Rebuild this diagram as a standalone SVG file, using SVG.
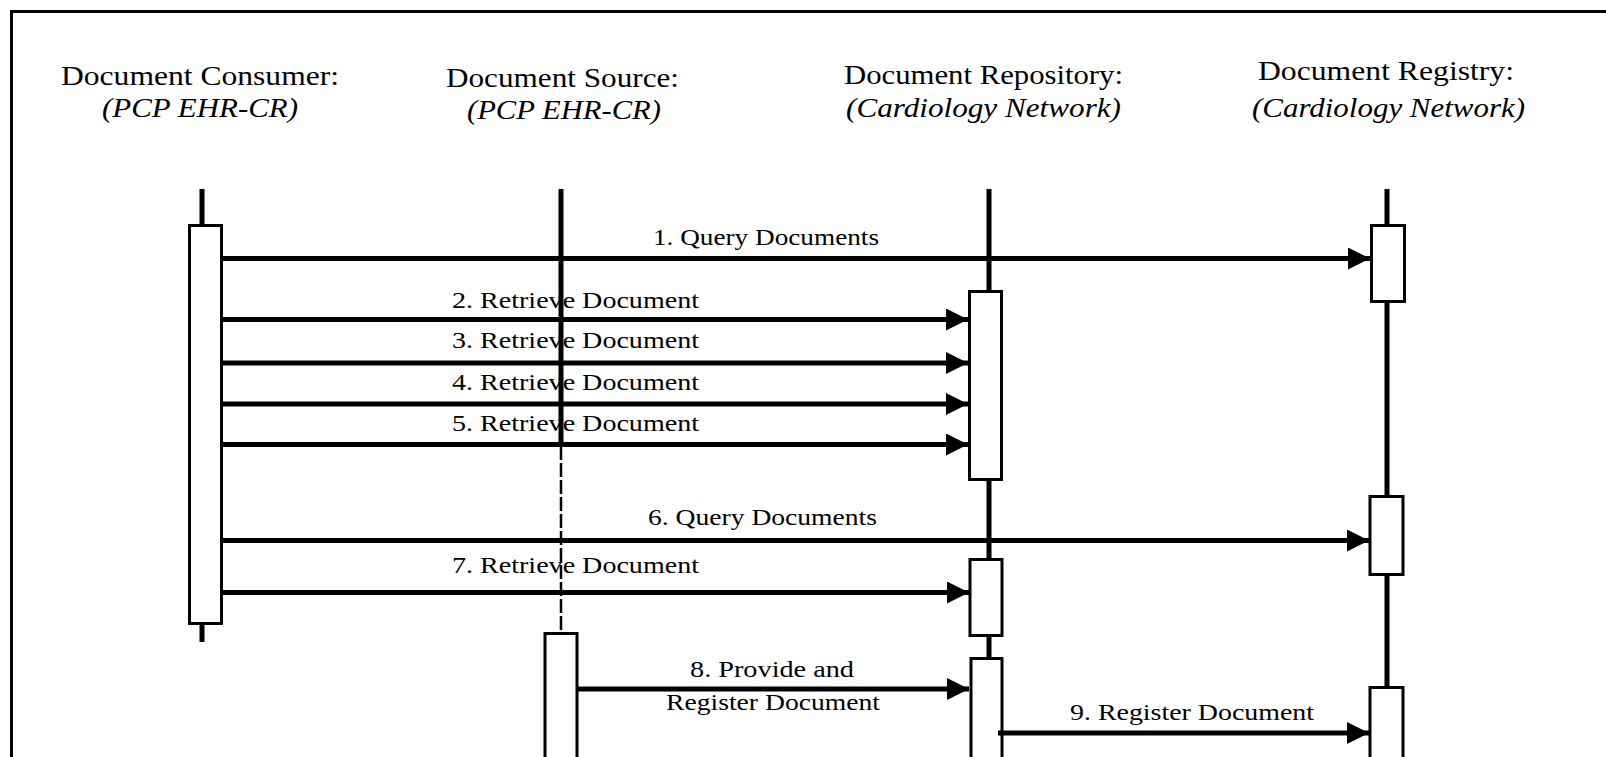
<svg xmlns="http://www.w3.org/2000/svg" width="1606" height="757" viewBox="0 0 1606 757">
<style>
.hdr{font-family:"Liberation Serif","Times New Roman",serif;font-size:27px;fill:#000}
.sub{font-family:"Liberation Serif","Times New Roman",serif;font-size:27px;font-style:italic;fill:#000}
.lbl{font-family:"Liberation Serif","Times New Roman",serif;font-size:24px;fill:#000}
.life{stroke:#000;stroke-width:5;fill:none}
.act{fill:#fff;stroke:#000;stroke-width:3}
.msg{stroke:#000;stroke-width:5;fill:none;marker-end:url(#ah)}
.frame{stroke:#000;stroke-width:3;fill:none}
</style>
<defs>
<marker id="ah" markerUnits="userSpaceOnUse" markerWidth="24" markerHeight="24" refX="22" refY="11" orient="auto" viewBox="0 0 24 24">
<path d="M0,0 L22,11 L0,22 z" fill="#000"/>
</marker>
</defs>
<rect width="1606" height="757" fill="#fff"/>
<path class="frame" d="M11.5,757 L11.5,11.5 L1606,11.5"/>

<g id="consumer">
<text class="hdr" x="61" y="85" textLength="278" lengthAdjust="spacingAndGlyphs">Document Consumer:</text>
<text class="sub" x="102" y="117" textLength="196" lengthAdjust="spacingAndGlyphs">(PCP EHR-CR)</text>
<line class="life" x1="202" y1="189" x2="202" y2="642"/>
<rect class="act" x="189.5" y="225.5" width="32" height="398"/>
</g>

<g id="source">
<text class="hdr" x="446" y="87" textLength="233" lengthAdjust="spacingAndGlyphs">Document Source:</text>
<text class="sub" x="467" y="119" textLength="194" lengthAdjust="spacingAndGlyphs">(PCP EHR-CR)</text>
<line class="life" x1="561" y1="189" x2="561" y2="446"/>
<line x1="561" y1="446" x2="561" y2="632" stroke="#000" stroke-width="2.5" stroke-dasharray="14,3"/>
<rect class="act" x="545" y="633.5" width="32" height="130"/>
</g>

<g id="repository">
<text class="hdr" x="844" y="84" textLength="279" lengthAdjust="spacingAndGlyphs">Document Repository:</text>
<text class="sub" x="846" y="117" textLength="275" lengthAdjust="spacingAndGlyphs">(Cardiology Network)</text>
<line class="life" x1="989" y1="189" x2="989" y2="757"/>
<rect class="act" x="969.5" y="291.5" width="32" height="188"/>
<rect class="act" x="970" y="559.5" width="32" height="76"/>
<rect class="act" x="971" y="658.5" width="31" height="110"/>
</g>

<g id="registry">
<text class="hdr" x="1258" y="80" textLength="256" lengthAdjust="spacingAndGlyphs">Document Registry:</text>
<text class="sub" x="1252" y="117" textLength="273" lengthAdjust="spacingAndGlyphs">(Cardiology Network)</text>
<line class="life" x1="1387" y1="189" x2="1387" y2="757"/>
<rect class="act" x="1371.5" y="225.5" width="33" height="76"/>
<rect class="act" x="1370" y="496.5" width="33" height="78"/>
<rect class="act" x="1370" y="687.5" width="33" height="80"/>
</g>

<g id="connectors">
<line class="msg" x1="223" y1="258.5" x2="1370" y2="258.5"/>
<line class="msg" x1="223" y1="319.5" x2="968" y2="319.5"/>
<line class="msg" x1="223" y1="363" x2="968" y2="363"/>
<line class="msg" x1="223" y1="404" x2="968" y2="404"/>
<line class="msg" x1="223" y1="444.5" x2="968" y2="444.5"/>
<line class="msg" x1="223" y1="540.5" x2="1369" y2="540.5"/>
<line class="msg" x1="223" y1="592.5" x2="969" y2="592.5"/>
<line class="msg" x1="578" y1="689" x2="969" y2="689"/>
<line class="msg" x1="998" y1="733" x2="1369" y2="733"/>
</g>

<g id="labels">
<text class="lbl" x="653" y="245" textLength="226" lengthAdjust="spacingAndGlyphs">1. Query Documents</text>
<text class="lbl" x="452" y="308" textLength="247" lengthAdjust="spacingAndGlyphs">2. Retrieve Document</text>
<text class="lbl" x="452" y="348" textLength="247" lengthAdjust="spacingAndGlyphs">3. Retrieve Document</text>
<text class="lbl" x="452" y="390" textLength="247" lengthAdjust="spacingAndGlyphs">4. Retrieve Document</text>
<text class="lbl" x="452" y="431" textLength="247" lengthAdjust="spacingAndGlyphs">5. Retrieve Document</text>
<text class="lbl" x="648" y="525" textLength="229" lengthAdjust="spacingAndGlyphs">6. Query Documents</text>
<text class="lbl" x="452" y="573" textLength="247" lengthAdjust="spacingAndGlyphs">7. Retrieve Document</text>
<text class="lbl" x="690" y="677" textLength="164" lengthAdjust="spacingAndGlyphs">8. Provide and</text>
<text class="lbl" x="666" y="710" textLength="214" lengthAdjust="spacingAndGlyphs">Register Document</text>
<text class="lbl" x="1070" y="720" textLength="244" lengthAdjust="spacingAndGlyphs">9. Register Document</text>
</g>
</svg>
